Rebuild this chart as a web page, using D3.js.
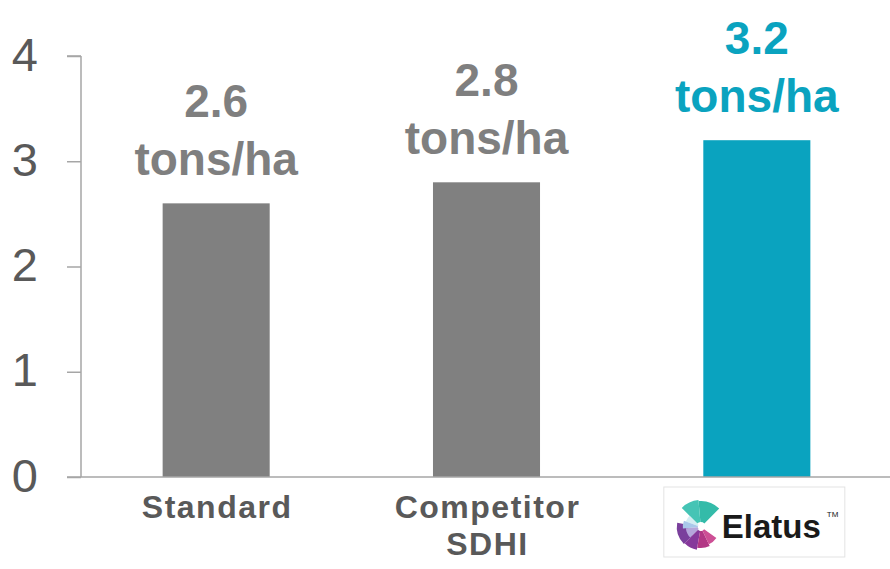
<!DOCTYPE html>
<html>
<head>
<meta charset="utf-8">
<script src="https://cdn.jsdelivr.net/npm/d3@7"></script>
<style>
  html, body { margin: 0; padding: 0; background: #fff; }
  svg { display: block; font-family: Arial, "Liberation Sans", sans-serif; }
</style>
</head>
<body>
<svg id="chart" width="890" height="569"></svg>
<script>
const categories = ["Standard", "Competitor\nSDHI", "Elatus"];
const values = [2.6, 2.8, 3.2];
const valueLabels = ["2.6", "2.8", "3.2"];
const unitLabel = "tons/ha";
const barColors = ["#808080", "#808080", "#0aa3bf"];
const yTicks = [0, 1, 2, 3, 4];
// logo wedges: [startDeg, endDeg, innerR, outerR, colour]
const logoWedges = [
  [-5, 45, 5, 26, "#34bba9"],
  [-45, -5, 5, 27, "#45c4b5"],
  [-135, -80, 12, 24, "#7a3f9c"],
  [-70, -45, 3, 16, "#d3edf3"],
  [-95, -70, 3, 18, "#a9c8ea"],
  [-135, -95, 3, 15, "#b5a6db"],
  [-170, -135, 4, 23, "#86399b"],
  [-205, -170, 4, 21, "#b23785"],
  [-235, -205, 4, 19, "#cd4f95"]
];

const svg = d3.select("#chart");
const margin = { left: 81, right: -2, top: 56, bottom: 92 };
const W = 890, H = 569;

const x = d3.scaleBand()
  .domain(categories)
  .range([margin.left, W - margin.right])
  .paddingInner(0.604)
  .paddingOuter(0.302);

const y = d3.scaleLinear()
  .domain([0, 4])
  .range([H - margin.bottom, margin.top]);

// Bars
svg.append("g").selectAll("rect")
  .data(categories)
  .join("rect")
  .attr("x", d => x(d))
  .attr("width", x.bandwidth())
  .attr("y", (d, i) => y(values[i]))
  .attr("height", (d, i) => y(0) - y(values[i]))
  .attr("fill", (d, i) => barColors[i]);

// Y axis
const yAxis = d3.axisLeft(y).tickValues(yTicks).tickFormat(d3.format("d")).tickSize(14).tickPadding(29);
const gy = svg.append("g").attr("transform", `translate(${margin.left},0)`).call(yAxis);
gy.select(".domain").attr("stroke", "#a6a6a6").attr("stroke-width", 1.5).attr("d", `M0,${y(4)}H-14M0,${y(4)}V${y(0)}`);
gy.selectAll(".tick line").attr("stroke", "#a6a6a6").attr("stroke-width", 1.5);
gy.selectAll(".tick text").attr("fill", "#595959").style("font-size", "47px").attr("dy", "0.3em");

// X axis baseline
svg.append("line")
  .attr("x1", margin.left - 14).attr("x2", W)
  .attr("y1", y(0)).attr("y2", y(0))
  .attr("stroke", "#a6a6a6").attr("stroke-width", 1.5);

// Value labels
const lab = svg.append("g").selectAll("text")
  .data(categories)
  .join("text")
  .attr("text-anchor", "middle")
  .attr("fill", (d, i) => i === 2 ? barColors[2] : "#7f7f7f")
  .style("font-size", "46px")
  .style("font-weight", "bold");
lab.append("tspan")
  .attr("x", d => x(d) + x.bandwidth() / 2)
  .attr("y", (d, i) => y(values[i]) - 28 - 58)
  .text((d, i) => valueLabels[i]);
lab.append("tspan")
  .attr("x", d => x(d) + x.bandwidth() / 2)
  .attr("y", (d, i) => y(values[i]) - 28)
  .text(unitLabel);

// Category labels (first two as text)
categories.slice(0, 2).forEach(c => {
  const t = svg.append("text")
    .attr("text-anchor", "middle")
    .attr("fill", "#595959")
    .style("font-size", "32px")
    .style("font-weight", "bold")
    .style("letter-spacing", "1.5px");
  c.split("\n").forEach((line, j) => {
    t.append("tspan")
      .attr("x", x(c) + x.bandwidth() / 2 + 1)
      .attr("y", y(0) + 41 + j * 37)
      .text(line);
  });
});

// Elatus logo
const cx = x(categories[2]) + x.bandwidth() / 2;
const logo = svg.append("g").attr("transform", `translate(${cx - 93},${y(0) + 10})`);
logo.append("rect").attr("x", 0).attr("y", 0).attr("width", 181).attr("height", 70)
  .attr("fill", "#fff").attr("stroke", "#e3e3e3").attr("stroke-width", 1);
const icon = logo.append("g").attr("transform", "translate(37,40)");
const arc = d3.arc();
logoWedges.forEach(w => {
  icon.append("path")
    .attr("d", arc({ innerRadius: w[2], outerRadius: w[3], startAngle: w[0] * Math.PI / 180, endAngle: w[1] * Math.PI / 180 }))
    .attr("fill", w[4]);
});
logo.append("text").attr("x", 58).attr("y", 51)
  .attr("fill", "#1a1a1a")
  .style("font-size", "33px")
  .style("font-weight", "bold")
  .text("Elatus");
logo.append("text").attr("x", 163).attr("y", 30)
  .attr("fill", "#1a1a1a")
  .style("font-size", "8px")
  .text("TM");
</script>
</body>
</html>
